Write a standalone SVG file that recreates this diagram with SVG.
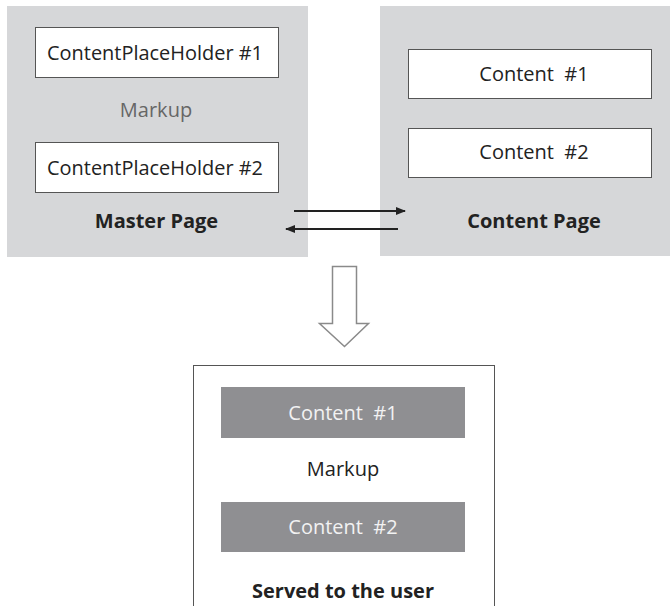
<svg xmlns="http://www.w3.org/2000/svg" width="670" height="606" viewBox="0 0 670 606">
<style>
text{font-family:"Open Sans","Noto Sans","Liberation Sans",sans-serif;text-anchor:middle;white-space:pre}
.pg{fill:#d6d7d9}
.wb{fill:#fff;stroke:#555;stroke-width:1}
.db{fill:#8f8f92}
.t{font-size:20px;fill:#222}
.tw{font-size:20px;fill:#f2f2f2}
.tm{font-size:20px;fill:#666}
.b{font-size:20px;font-weight:bold;fill:#222}
.ln{stroke:#222;stroke-width:2;fill:none}
</style>
<defs>
<marker id="ah" viewBox="0 0 10 10" refX="9" refY="5" markerWidth="10" markerHeight="8" orient="auto" markerUnits="userSpaceOnUse" preserveAspectRatio="none">
<path d="M0,0 L10,5 L0,10 z" fill="#222"/>
</marker>
</defs>
<g id="master">
<rect class="pg" x="7" y="6" width="301" height="251"/>
<rect class="wb" x="35.5" y="27.5" width="243" height="50"/>
<text class="t" x="155" y="60" textLength="216" lengthAdjust="spacingAndGlyphs">ContentPlaceHolder #1</text>
<text class="tm" x="156" y="117">Markup</text>
<rect class="wb" x="35.5" y="142.5" width="243" height="50"/>
<text class="t" x="155" y="175" textLength="216" lengthAdjust="spacingAndGlyphs">ContentPlaceHolder #2</text>
<text class="b" x="156.5" y="228">Master Page</text>
</g>
<g id="content">
<rect class="pg" x="380" y="6" width="290" height="250"/>
<rect class="wb" x="408.5" y="49.5" width="243" height="49"/>
<text class="t" x="534" y="81">Content  #1</text>
<rect class="wb" x="408.5" y="128.5" width="243" height="49"/>
<text class="t" x="534" y="159">Content  #2</text>
<text class="b" x="534" y="228">Content Page</text>
</g>
<g id="served">
<rect x="193.5" y="365.5" width="301" height="250" fill="#fff" stroke="#555" stroke-width="1"/>
<rect class="db" x="221" y="387" width="244" height="51"/>
<text class="tw" x="343" y="420">Content  #1</text>
<text class="t" x="343" y="476">Markup</text>
<rect class="db" x="221" y="502" width="244" height="50"/>
<text class="tw" x="343" y="534">Content  #2</text>
<text class="b" x="343" y="598">Served to the user</text>
</g>
<g id="connectors">
<line class="ln" x1="294" y1="211" x2="405" y2="211" marker-end="url(#ah)"/>
<line class="ln" x1="398" y1="229" x2="286" y2="229" marker-end="url(#ah)"/>
<path d="M332.5,266.5 H356.5 V323.5 H368.5 L344.5,346.5 L319.5,323.5 H332.5 Z" fill="#fff" stroke="#8a8a8a" stroke-width="1.5"/>
</g>
</svg>
